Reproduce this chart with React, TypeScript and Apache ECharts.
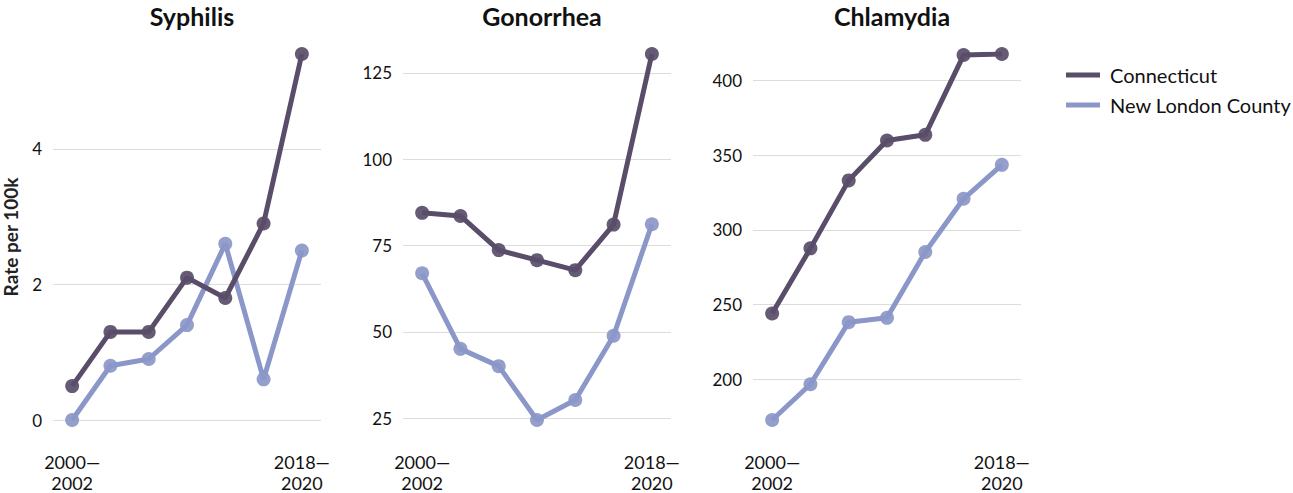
import React, { useEffect, useRef } from "react";
import * as echarts from "echarts";

const periods = ["2000—2002", "2003—2005", "2006—2008", "2009—2011", "2012—2014", "2015—2017", "2018—2020"];
const diseases = ["Syphilis", "Gonorrhea", "Chlamydia"];
const seriesNames = ["Connecticut", "New London County"];

const syphilisCT = [0.5, 1.3, 1.3, 2.1, 1.8, 2.9, 5.4];
const syphilisNLC = [0.0, 0.8, 0.9, 1.4, 2.6, 0.6, 2.5];
const gonorrheaCT = [84.5, 83.6, 73.7, 70.8, 67.9, 81.1, 130.5];
const gonorrheaNLC = [67.0, 45.1, 40.1, 24.5, 30.3, 48.9, 81.2];
const chlamydiaCT = [244.1, 287.7, 333.2, 359.9, 363.7, 417.1, 417.8];
const chlamydiaNLC = [172.8, 196.7, 238.3, 241.2, 285.3, 320.9, 343.6];

const tickIntervals = [2, 25, 50];
const yAxisTitle = "Rate per 100k";

const FONT = "'Source Sans Pro', Lato, 'Noto Sans', sans-serif";
const COLORS = ["#594d69", "#8b97c8"];

export default function App() {
  const ref = useRef<HTMLDivElement>(null);
  useEffect(() => {
    if (!ref.current) return;
    const chart = echarts.init(ref.current, undefined, { renderer: "svg" });
    const panelData = [
      [syphilisCT, syphilisNLC],
      [gonorrheaCT, gonorrheaNLC],
      [chlamydiaCT, chlamydiaNLC],
    ];
    const lefts = [53, 403, 753];
    const gridW = 268;
    const grids = lefts.map((l) => ({ left: l, width: gridW, top: 54, height: 366 }));
    const titles = diseases.map((d, i) => ({
      text: d,
      left: lefts[i] + gridW / 2,
      top: -2,
      textAlign: "center",
      textStyle: { fontFamily: FONT, fontSize: 25, fontWeight: "bold", color: "#111" },
    }));
    const xAxes = diseases.map((_, i) => ({
      type: "category",
      gridIndex: i,
      data: periods,
      boundaryGap: true,
      axisLine: { show: false },
      axisTick: { show: false },
      axisLabel: {
        interval: 0,
        margin: 31,
        fontFamily: FONT,
        fontSize: 18,
        lineHeight: 21,
        color: "#111",
        formatter: (v: string, idx: number) =>
          idx === 0 || idx === periods.length - 1 ? v.replace("—", "—\n") : "",
      },
    }));
    const yAxes = diseases.map((_, i) => {
      const all = panelData[i][0].concat(panelData[i][1]);
      const mn = Math.min(...all);
      const mx = Math.max(...all);
      const iv = tickIntervals[i];
      return {
        type: "value",
        gridIndex: i,
        min: mn,
        max: mx,
        minInterval: iv,
        maxInterval: iv,
        name: i === 0 ? yAxisTitle : "",
        nameLocation: "middle",
        nameRotate: 90,
        nameGap: 33,
        nameTextStyle: { fontFamily: FONT, fontSize: 19, fontWeight: "bold", color: "#222" },
        axisLine: { show: false },
        axisTick: { show: false },
        axisLabel: {
          margin: 11,
          fontFamily: FONT,
          fontSize: 17,
          color: "#111",
          formatter: (v: number) => {
            const r = v / iv;
            return Math.abs(r - Math.round(r)) < 1e-6 ? String(Math.round(v)) : "";
          },
        },
        splitLine: {
          show: true,
          showMinLine: Math.abs(mn / iv - Math.round(mn / iv)) < 1e-6,
          showMaxLine: false,
          lineStyle: { color: "#dcdcdc", width: 1 },
        },
      };
    });
    const series: any[] = [];
    diseases.forEach((_, i) => {
      seriesNames.forEach((name, s) => {
        series.push({
          type: "line",
          name,
          xAxisIndex: i,
          yAxisIndex: i,
          data: panelData[i][s],
          symbol: "circle",
          symbolSize: 14,
          showSymbol: true,
          lineStyle: { width: 5, color: COLORS[s] },
          itemStyle: { color: COLORS[s], opacity: 0.92 },
          z: s === 0 ? 3 : 2,
        });
      });
    });
    chart.setOption({
      animation: false,
      title: titles,
      grid: grids,
      xAxis: xAxes,
      yAxis: yAxes,
      legend: {
        data: seriesNames.map((n, s) => ({ name: n, icon: "rect", itemStyle: { color: COLORS[s], opacity: 1 } })),
        orient: "vertical",
        left: 1066,
        top: 65,
        padding: 0,
        itemWidth: 34,
        itemHeight: 5,
        itemGap: 10,
        textStyle: { fontFamily: FONT, fontSize: 20, color: "#111", padding: [0, 0, 0, 5] },
        selectedMode: false,
      },
      series,
    });
    return () => chart.dispose();
  }, []);
  return <div ref={ref} style={{ width: 1293, height: 493, position: "absolute", left: 0, top: 0 }} />;
}
